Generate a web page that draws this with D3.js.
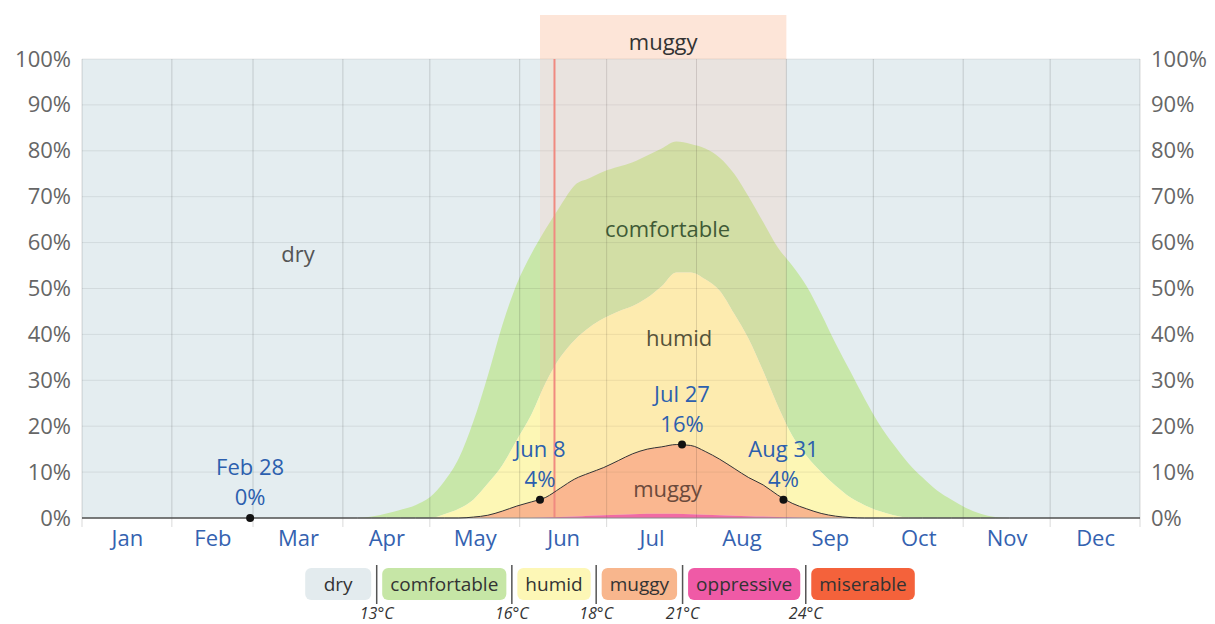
<!DOCTYPE html>
<html>
<head>
<meta charset="utf-8">
<script src="https://cdn.jsdelivr.net/npm/d3@7"></script>
<style>
body { margin: 0; background: #fff; }
text { font-family: "Open Sans", "Noto Sans", sans-serif; }
</style>
</head>
<body>
<script>
var w = 1215;
var h = 624;

// day of year for each sample
var days = [0,95,100,105,110,115,120,125,130,135,140,145,150,155,160,165,170,175,180,185,190,195,200,205,210,215,220,225,230,235,240,245,250,255,260,265,270,275,280,285,290,295,300,305,310,315,320,365];
// % of time at or above each comfort level
var comfortable = [0,0,0.3,1,1.8,2.8,4.5,8,13,21,31,42,51,57.5,63,68,72.5,74,75.5,76.5,77.5,79,80.5,82,81.5,80.5,78.5,75,70,64.5,59,55,50.5,44.5,38,32,26,20.5,16,12,8.8,6,4,2.2,0.9,0.2,0,0];
var humid =       [0,0,0,0,0,0,0,0.8,2,4,7.5,11.5,17,22.5,29.5,35,38.8,41.5,43.5,45,46.2,48,50.5,53.5,53.5,52,49.5,44.5,39,32,24.5,18,13.5,10,7,4.5,2.8,1.5,0.6,0.1,0,0,0,0,0,0,0,0];
var muggy =       [0,0,0,0,0,0,0,0,0,0.2,0.6,1.5,2.6,3.5,4.5,6.5,8.5,9.8,11,12.5,14,15,15.5,16,15.8,14.5,12.8,10.8,8.8,7.2,5,3.2,2,1,0.4,0.1,0,0,0,0,0,0,0,0,0,0,0,0];
var oppressive =  [0,0,0,0,0,0,0,0,0,0,0,0,0,0,0.1,0.2,0.3,0.5,0.6,0.7,0.8,0.9,0.9,0.9,0.8,0.7,0.6,0.5,0.4,0.3,0.2,0.1,0,0,0,0,0,0,0,0,0,0,0,0,0,0,0,0];

var monthNames = ["Jan","Feb","Mar","Apr","May","Jun","Jul","Aug","Sep","Oct","Nov","Dec"];
var monthStarts = [0,31,59,90,120,151,181,212,243,273,304,334,365];
var yTicks = [0,10,20,30,40,50,60,70,80,90,100];

var markDays = [58,158,207,242];
var markDates = ["Feb 28","Jun 8","Jul 27","Aug 31"];
var markValues = [0,4,16,4];

var bandStart = 158;
var bandEnd = 243;
var bandName = "muggy";
var today = 163;

var legendNames = ["dry","comfortable","humid","muggy","oppressive","miserable"];
var legendColors = ["#e3ebee","#c6e6a6","#fdf7b6","#f8b68d","#ef5aa6","#f4623b"];
var thresholds = ["13°C","16°C","18°C","21°C","24°C"];

var x = d3.scaleLinear().domain([0,365]).range([82,1140]);
var y = d3.scaleLinear().domain([0,100]).range([518,59]);

var svg = d3.select("body").append("svg").attr("width",w).attr("height",h);

// muggy band label on top
svg.append("rect")
.attr("x",x(bandStart)).attr("y",15)
.attr("width",x(bandEnd)-x(bandStart)).attr("height",y(100)-15)
.attr("fill","#fde5d8");
svg.append("text")
.attr("x",(x(bandStart)+x(bandEnd))/2).attr("y",50)
.attr("text-anchor","middle").attr("font-size",22).attr("fill","#333")
.text(bandName);

// dry background
svg.append("rect")
.attr("x",x(0)).attr("y",y(100))
.attr("width",x(365)-x(0)).attr("height",y(0)-y(100))
.attr("fill","#e4edf0");

var rows = days.map(function(d,i){
    return {day:d, c:comfortable[i], h:humid[i], m:muggy[i], o:oppressive[i]};
});

var layers = [
    {top:"c", bot:"h", color:"#c8e7a9"},
    {top:"h", bot:"m", color:"#fdf7b5"},
    {top:"m", bot:"o", color:"#f9b88f"},
    {top:"o", bot:null, color:"#ee5aa8"}
];

layers.forEach(function(l){
    var area = d3.area()
    .curve(d3.curveMonotoneX)
    .x(function(d){return x(d.day);})
    .y0(function(d){return l.bot ? y(d[l.bot]) : y(0);})
    .y1(function(d){return y(d[l.top]);});
    svg.append("path").datum(rows).attr("d",area).attr("fill",l.color);
});

// gridlines
svg.selectAll(".hgrid")
.data(yTicks.slice(1))
.enter()
.append("line")
.attr("x1",x(0)).attr("x2",x(365))
.attr("y1",function(d){return y(d);}).attr("y2",function(d){return y(d);})
.attr("stroke","rgba(0,0,0,0.08)");

svg.selectAll(".vgrid")
.data(monthStarts)
.enter()
.append("line")
.attr("x1",function(d){return x(d);}).attr("x2",function(d){return x(d);})
.attr("y1",y(100)).attr("y2",y(0)+9)
.attr("stroke","rgba(0,0,0,0.15)");

// band overlay inside the plot
svg.append("rect")
.attr("x",x(bandStart)).attr("y",y(100))
.attr("width",x(bandEnd)-x(bandStart)).attr("height",y(0)-y(100))
.attr("fill","rgba(255,185,150,0.18)");

// today line
svg.append("line")
.attr("x1",x(today)).attr("x2",x(today))
.attr("y1",y(100)).attr("y2",y(0))
.attr("stroke","#f08a80").attr("stroke-width",2);

// baseline
svg.append("line")
.attr("x1",x(0)).attr("x2",x(365))
.attr("y1",y(0)).attr("y2",y(0))
.attr("stroke","#888");

// muggy line
var line = d3.line()
.curve(d3.curveMonotoneX)
.x(function(d){return x(d.day);})
.y(function(d){return y(d.m);});
svg.append("path").datum(rows).attr("d",line)
.attr("fill","none").attr("stroke","#333").attr("stroke-width",1);

// area labels
var areaLabels = [
    {t:"dry", d:74.5, v:57.5, c:"#555"},
    {t:"comfortable", d:202, v:63, c:"#3f5a36"},
    {t:"humid", d:206, v:39.2, c:"#55533a"},
    {t:"muggy", d:202, v:6.3, c:"#6b4a3c"}
];
svg.selectAll(".alab")
.data(areaLabels)
.enter()
.append("text")
.attr("x",function(d){return x(d.d);})
.attr("y",function(d){return y(d.v)+8;})
.attr("text-anchor","middle").attr("font-size",22)
.attr("fill",function(d){return d.c;})
.text(function(d){return d.t;});

// marked points
svg.selectAll(".pt")
.data(markDays)
.enter()
.append("circle")
.attr("cx",function(d){return x(d);})
.attr("cy",function(d,i){return y(markValues[i]);})
.attr("r",4).attr("fill","#111");

svg.selectAll(".mk1")
.data(markDays)
.enter()
.append("text")
.attr("x",function(d){return x(d);})
.attr("y",function(d,i){return y(markValues[i])-43;})
.attr("text-anchor","middle").attr("font-size",22).attr("fill","#2c5fae")
.text(function(d,i){return markDates[i];});

svg.selectAll(".mk2")
.data(markDays)
.enter()
.append("text")
.attr("x",function(d){return x(d);})
.attr("y",function(d,i){return y(markValues[i])-13;})
.attr("text-anchor","middle").attr("font-size",22).attr("fill","#2c5fae")
.text(function(d,i){return markValues[i]+"%";});

// axes
var yl = svg.append("g").attr("transform","translate("+(x(0)-8)+",0)")
.call(d3.axisLeft(y).tickValues(yTicks).tickSize(0).tickFormat(function(d){return d+"%";}));
var yr = svg.append("g").attr("transform","translate("+(x(365)+8)+",0)")
.call(d3.axisRight(y).tickValues(yTicks).tickSize(0).tickFormat(function(d){return d+"%";}));
[yl,yr].forEach(function(g){
    g.select(".domain").remove();
    g.selectAll("text").attr("font-size",22).attr("fill","#666")
    .attr("font-family","\"Open Sans\", \"Noto Sans\", sans-serif");
});

var mids = monthStarts.slice(0,12).map(function(d,i){return (d+monthStarts[i+1])/2;});
var xa = svg.append("g").attr("transform","translate(0,"+(y(0)+9)+")")
.call(d3.axisBottom(x).tickValues(mids).tickSize(0).tickFormat(function(d,i){return monthNames[i];}));
xa.select(".domain").remove();
xa.selectAll("text").attr("font-size",22).attr("fill","#3462b0")
.attr("font-family","\"Open Sans\", \"Noto Sans\", sans-serif");

// legend
var lg = svg.append("g");
var boxes = [];
var cx = 0;
legendNames.forEach(function(n,i){
    var t = lg.append("text").attr("font-size",19).attr("fill","#333").attr("text-anchor","middle").text(n);
    var tw = t.node().getComputedTextLength();
    var bw = Math.max(66, tw+16);
    boxes.push({t:t, x:cx, w:bw});
    cx += bw;
    if (i < legendNames.length-1) cx += 11;
});
var lx0 = 610 - cx/2;
boxes.forEach(function(b,i){
    lg.insert("rect","text")
    .attr("x",lx0+b.x).attr("y",568).attr("width",b.w).attr("height",32).attr("rx",6)
    .attr("fill",legendColors[i]);
    b.t.attr("x",lx0+b.x+b.w/2).attr("y",591);
    if (i < legendNames.length-1) {
        var sx = lx0+b.x+b.w+5.5;
        lg.append("line").attr("x1",sx).attr("x2",sx).attr("y1",565).attr("y2",604)
        .attr("stroke","#555").attr("stroke-width",1.5);
        lg.append("text").attr("x",sx).attr("y",619).attr("text-anchor","middle")
        .attr("font-size",16).attr("font-style","italic").attr("fill","#333")
        .text(thresholds[i]);
    }
});
</script>
</body>
</html>
